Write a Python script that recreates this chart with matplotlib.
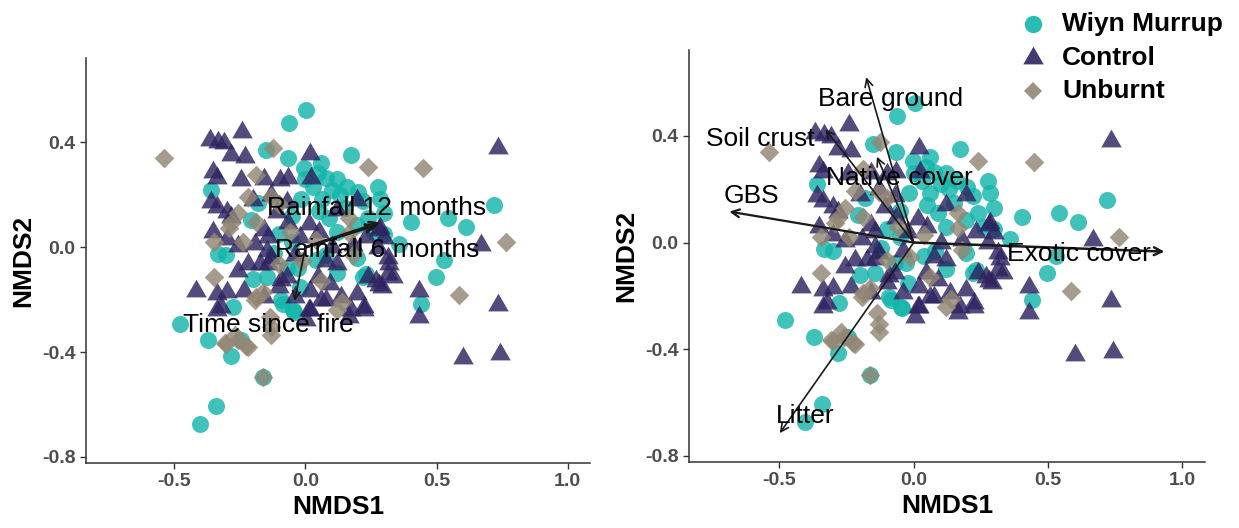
import matplotlib.pyplot as plt
from matplotlib.lines import Line2D

plt.rcParams['font.family'] = ['Liberation Sans', 'DejaVu Sans']
plt.rcParams['axes.unicode_minus'] = False

# NMDS site scores per treatment
wm_x = [0.003, -0.061, -0.150, -0.067, 0.174, -0.360, -0.181, -0.207, -0.334, -0.302,
        0.276, 0.720, 0.403, 0.543, 0.613, 0.530, 0.498, 0.441, 0.219, 0.358,
        -0.480, -0.372, -0.283, -0.162, -0.340, -0.404, -0.042, -0.093, -0.277, -0.245,
        -0.004, 0.047, 0.077, 0.284, 0.298, -0.019, 0.062, 0.121, 0.195,
        -0.071, -0.027, 0.232, -0.049, -0.086, -0.145, 0.195, 0.239,
        0.100, 0.130, 0.160, 0.200, 0.220, 0.030, 0.050, 0.090, 0.150, 0.260, 0.300,
        -0.100, -0.050, -0.120, 0.040, 0.120, -0.020, 0.080, -0.200, 0.000, 0.060, 0.120, -0.050]
wm_y = [0.523, 0.473, 0.371, 0.339, 0.352, 0.218, 0.167, 0.103, -0.024, -0.031,
        0.230, 0.160, 0.097, 0.110, 0.078, -0.050, -0.113, -0.215, -0.113, 0.014,
        -0.292, -0.355, -0.413, -0.496, -0.604, -0.674, -0.247, -0.203, -0.228, -0.355,
        0.304, 0.285, 0.266, 0.185, 0.129, 0.185, 0.185, 0.060, 0.085,
        -0.078, -0.078, -0.103, -0.240, -0.215, -0.115, -0.040, 0.110,
        0.220, 0.200, 0.230, 0.210, 0.175, 0.230, 0.140, 0.110, 0.150, 0.060, 0.050,
        0.050, 0.020, -0.020, -0.050, -0.100, -0.150, -0.030, -0.120, 0.260, 0.320, 0.260, 0.120]

ctrl_x = [-0.241, -0.366, -0.334, -0.309, -0.283, -0.232, 0.018, -0.353, -0.337, -0.245,
          -0.099, -0.067, 0.022, -0.160, -0.359, -0.337, -0.300, -0.283, 0.195, 0.121,
          -0.108, -0.067, 0.015, 0.284, 0.232, 0.298, -0.353, -0.160, -0.256, -0.194,
          -0.143, -0.145, -0.174, -0.256, -0.071, -0.130, 0.077, 0.121, 0.047, 0.092,
          0.018, 0.136, 0.195, 0.018, 0.003, 0.165, 0.225, 0.269, 0.291, 0.313,
          0.313, 0.276, 0.668, 0.734, 0.431, 0.431, 0.734, 0.601, 0.741, -0.418,
          -0.337, -0.300, -0.322, -0.337, -0.160, 0.180, -0.219, -0.100, 0.077, -0.041,
          -0.233, -0.071, -0.143, -0.093, 0.015, 0.060, 0.282, 0.320, 0.333, 0.282,
          0.238, 0.225, 0.174, -0.300, -0.200, -0.130, 0.100, -0.020, -0.040, 0.050]
ctrl_y = [0.441, 0.409, 0.402, 0.396, 0.352, 0.345, 0.354, 0.288, 0.266, 0.256,
          0.256, 0.263, 0.263, 0.260, 0.173, 0.154, 0.135, 0.116, 0.179, 0.141,
          0.135, 0.091, 0.090, 0.075, 0.041, 0.035, 0.058, 0.066, 0.004, 0.014,
          0.039, -0.015, -0.065, -0.090, -0.115, -0.040, -0.053, -0.065, -0.115, -0.140,
          -0.165, -0.190, -0.178, -0.240, -0.278, -0.265, -0.240, -0.128, -0.153, -0.103,
          -0.040, -0.003, 0.010, 0.379, -0.165, -0.265, -0.221, -0.421, -0.409, -0.165,
          -0.178, -0.171, -0.228, -0.240, -0.190, 0.010, -0.065, -0.153, -0.203, -0.190,
          -0.165, 0.173, -0.062, -0.126, -0.241, -0.203, 0.065, -0.062, -0.113, -0.145,
          -0.113, -0.228, -0.240, 0.030, 0.180, 0.200, 0.000, 0.040, -0.030, 0.060]

unb_x = [-0.538, -0.124, -0.188, -0.220, -0.283, -0.347, -0.188, 0.238, 0.448, 0.765,
         0.587, -0.347, -0.194, -0.162, -0.131, -0.302, -0.220, -0.258, -0.162, -0.137,
         -0.130, -0.189, -0.130, 0.040, 0.121, 0.165, 0.180, 0.165, -0.270, -0.307,
         -0.292, -0.256, -0.100, -0.012, -0.100, -0.226, -0.240, 0.060, -0.060, 0.140]
unb_y = [0.339, 0.377, 0.275, 0.192, 0.091, 0.020, 0.097, 0.307, 0.301, 0.020,
         -0.183, -0.113, -0.203, -0.171, -0.305, -0.368, -0.381, -0.355, -0.496, -0.265,
         -0.334, -0.190, 0.190, 0.029, -0.240, 0.054, -0.028, 0.110, -0.334, -0.365,
         0.073, 0.129, 0.166, -0.053, -0.065, -0.378, 0.020, -0.130, 0.060, -0.210]

# fitted vectors
left_names = ["Rainfall 12 months", "Rainfall 6 months", "Time since fire"]
left_vx = [0.285, 0.270, -0.042]
left_vy = [0.095, 0.085, -0.205]
left_lx = [0.270, 0.273, -0.140]
left_ly = [0.149, -0.011, -0.298]

right_names = ["Bare ground", "Soil crust", "Native cover", "GBS", "Exotic cover", "Litter"]
right_vx = [-0.177, -0.329, -0.137, -0.687, 0.934, -0.499]
right_vy = [0.620, 0.425, 0.322, 0.116, -0.034, -0.715]
right_lx = [-0.086, -0.573, -0.053, -0.603, 0.616, -0.403]
right_ly = [0.537, 0.387, 0.241, 0.175, -0.044, -0.652]

col_wm = "#13B5AA"
col_ctrl = "#2E2360"
col_unb = "#928774"
tri = [(0, 1), (-0.866, -0.5), (0.866, -0.5)]


def draw_panel(ax, names, vx, vy, lx, ly, lws):
    ax.scatter(wm_x, wm_y, s=150, marker='o', color=col_wm, alpha=0.82, linewidths=0)
    ax.scatter(ctrl_x, ctrl_y, s=290, marker=tri, color=col_ctrl, alpha=0.82, linewidths=0)
    ax.scatter(unb_x, unb_y, s=100, marker='D', color=col_unb, alpha=0.82, linewidths=0)
    for n, x, y, tx, ty, lw in zip(names, vx, vy, lx, ly, lws):
        ax.annotate("", xy=(x, y), xytext=(0, 0),
                    arrowprops=dict(arrowstyle='->', color='#1a1a1a', lw=lw,
                                    shrinkA=0, shrinkB=0, mutation_scale=14))
        ax.text(tx, ty, n, ha='center', va='center', fontsize=19, color='black')
    ax.set_xlim(-0.837, 1.085)
    ax.set_ylim(-0.823, 0.722)
    ax.set_xticks([-0.5, 0.0, 0.5, 1.0])
    ax.set_yticks([-0.8, -0.4, 0.0, 0.4])
    ax.set_xticklabels(["-0.5", "0.0", "0.5", "1.0"])
    ax.set_yticklabels(["-0.8", "-0.4", "0.0", "0.4"])
    for side in ['top', 'right']:
        ax.spines[side].set_visible(False)
    for side in ['left', 'bottom']:
        ax.spines[side].set_color('#333333')
        ax.spines[side].set_linewidth(1.1)
    ax.tick_params(colors='#333333', length=4, width=1, labelsize=14, labelcolor='#4D4D4D')
    for t in ax.get_xticklabels() + ax.get_yticklabels():
        t.set_fontweight('bold')
    ax.set_xlabel("NMDS1", fontsize=19, fontweight='bold', labelpad=3)
    ax.set_ylabel("NMDS2", fontsize=19, fontweight='bold', labelpad=5)


fig = plt.figure(figsize=(12.39, 5.28), dpi=100)
ax1 = fig.add_axes([86 / 1239, 1 - 463 / 528, 504 / 1239, 405 / 528])
ax2 = fig.add_axes([689 / 1239, 1 - 462 / 528, 516 / 1239, 412 / 528])

draw_panel(ax1, left_names, left_vx, left_vy, left_lx, left_ly, [2.0, 2.0, 1.3])
draw_panel(ax2, right_names, right_vx, right_vy, right_lx, right_ly, [1.2, 1.2, 1.2, 1.6, 1.8, 1.2])

# legend
leg_labels = ["Wiyn Murrup", "Control", "Unburnt"]
leg_marks = [('o', col_wm, 12.5), (tri, col_ctrl, 17), ('D', col_unb, 9)]
leg_y = [24, 58, 91]
for lab, (m, c, ms), y in zip(leg_labels, leg_marks, leg_y):
    fig.add_artist(Line2D([1033 / 1239], [1 - y / 528], marker=m, markersize=ms,
                          color=c, markeredgewidth=0, alpha=0.9, linestyle='none',
                          transform=fig.transFigure))
    fig.text(1062 / 1239, 1 - y / 528, lab, fontsize=19, fontweight='bold',
             ha='left', va='center')

plt.savefig("out.png", dpi=100)
